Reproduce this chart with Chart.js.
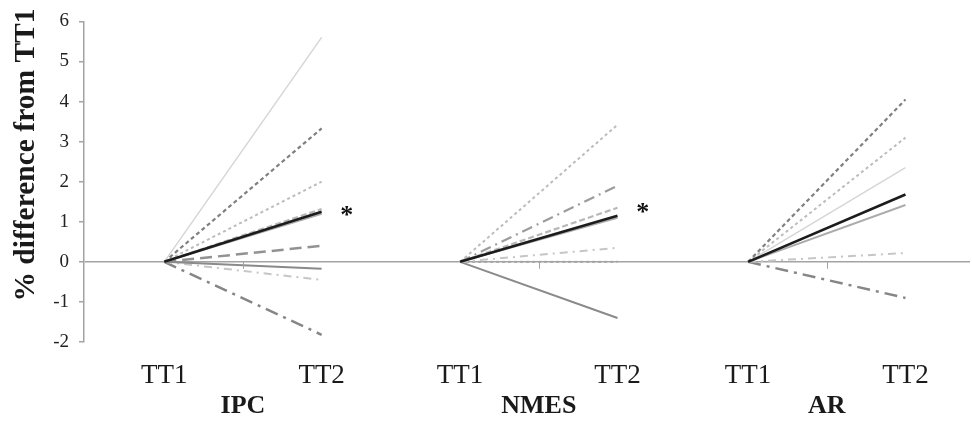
<!DOCTYPE html>
<html>
<head>
<meta charset="utf-8">
<script src="https://cdn.jsdelivr.net/npm/chart.js@4.4.1/dist/chart.umd.min.js"></script>
<style>
  html, body { margin: 0; padding: 0; background: #fff; }
  #wrap { width: 972px; height: 433px; }
</style>
</head>
<body>
<div id="wrap"><canvas id="c" width="972" height="433"></canvas></div>
<script>
// ---- data ----
const timepoints = ['TT1', 'TT2'];
const groups = ['IPC', 'NMES', 'AR'];
// axis position of TT1 in each group; TT2 sits one unit to the right
const groupStart = [0.51, 2.39, 4.22];
const axisMax = 5.63;
const yMin = -2, yMax = 6, yStep = 1;

// % difference from TT1 at TT2 (every line starts at 0 on TT1)
const ipcTT2  = [5.6, 3.33, 2.0, 1.32, 1.2, -0.17, 0.4, -0.45, -1.82, 1.25];
const nmesTT2 = [3.42, 1.9, 1.35, 1.1, 0.35, 0.0, -1.4, 1.15];
const arTT2   = [4.05, 3.1, 2.35, 1.42, 0.22, -0.9, 1.68];

// significant change markers: group index and height
const sigGroups = [0, 1];
const sigValues = [1.22, 1.29];

// ---- line styles ----
const lineStyles = {
  pale:        { color: '#d6d6d6', width: 1.5, dash: [] },
  darkDash:    { color: '#808080', width: 2.2, dash: [4, 3] },
  lightDot:    { color: '#bcbcbc', width: 2.0, dash: [3, 3] },
  lightDash:   { color: '#b8b8b8', width: 2.2, dash: [6, 3] },
  softSolid:   { color: '#acacac', width: 2.0, dash: [] },
  greySolid:   { color: '#8a8a8a', width: 2.0, dash: [] },
  longDash:    { color: '#929292', width: 2.5, dash: [12, 6] },
  dashDot:     { color: '#c6c6c6', width: 2.0, dash: [8, 5, 2, 5] },
  greyDashDot: { color: '#9c9c9c', width: 2.2, dash: [11, 5, 2, 5] },
  greyDot:     { color: '#a4a4a4', width: 2.0, dash: [3, 3] },
  longDashDot: { color: '#868686', width: 2.5, dash: [13, 6, 3, 6] },
  mean:        { color: '#1c1c1c', width: 2.6, dash: [] }
};
const ipcStyle  = ['pale', 'darkDash', 'lightDot', 'lightDash', 'softSolid', 'greySolid', 'longDash', 'dashDot', 'longDashDot', 'mean'];
const nmesStyle = ['lightDot', 'greyDashDot', 'lightDash', 'softSolid', 'dashDot', 'greyDot', 'greySolid', 'mean'];
const arStyle   = ['darkDash', 'lightDot', 'pale', 'softSolid', 'dashDot', 'longDashDot', 'mean'];

const groupValues = [ipcTT2, nmesTT2, arTT2];
const groupStyles = [ipcStyle, nmesStyle, arStyle];

const datasets = [];
groupValues.forEach((vals, g) => {
  vals.forEach((v, i) => {
    const s = lineStyles[groupStyles[g][i]];
    datasets.push({
      label: groups[g] + ' ' + (i + 1),
      data: [{ x: groupStart[g], y: 0 }, { x: groupStart[g] + 1, y: v }],
      borderColor: s.color,
      borderWidth: s.width,
      borderDash: s.dash,
      pointRadius: 0,
      tension: 0,
      fill: false,
      order: groupStyles[g][i] === 'mean' ? 0 : 1
    });
  });
});

// x ticks: TT1/TT2 under each line end, group name (second line) at the group centre
const xTicks = [];
groupStart.forEach((p, g) => {
  xTicks.push({ value: p, label: timepoints[0], group: false });
  xTicks.push({ value: p + 0.5, label: ['', groups[g]], group: true });
  xTicks.push({ value: p + 1, label: timepoints[1], group: false });
});
const groupCentres = groupStart.map(p => p + 0.5);

const serif = '"Liberation Serif", "Times New Roman", serif';
const axisGrey = '#a3a3a3';

// rotated y title, significance stars and the small ticks on the zero line
const decorations = {
  id: 'decorations',
  afterDraw(chart) {
    const { ctx, scales: { x, y } } = chart;
    ctx.save();
    ctx.strokeStyle = axisGrey;
    ctx.lineWidth = 1;
    const y0 = y.getPixelForValue(0);
    groupCentres.forEach(c => {
      const px = Math.round(x.getPixelForValue(c)) + 0.5;
      ctx.beginPath();
      ctx.moveTo(px, y0);
      ctx.lineTo(px, y0 + 7);
      ctx.stroke();
    });
    ctx.fillStyle = '#111';
    ctx.font = 'bold 26px ' + serif;
    ctx.textAlign = 'center';
    ctx.textBaseline = 'alphabetic';
    sigGroups.forEach((g, i) => {
      const px = x.getPixelForValue(groupStart[g] + 1.16);
      const py = y.getPixelForValue(sigValues[i]);
      ctx.fillText('*', px, py + 10);
    });
    ctx.translate(26, 155);
    ctx.rotate(-Math.PI / 2);
    ctx.fillStyle = '#1a1a1a';
    ctx.font = 'bold 29.5px ' + serif;
    ctx.textAlign = 'center';
    ctx.textBaseline = 'middle';
    ctx.fillText('% difference from TT1', 0, 0);
    ctx.restore();
  }
};

new Chart(document.getElementById('c'), {
  type: 'line',
  data: { datasets },
  options: {
    responsive: false,
    animation: false,
    devicePixelRatio: 1,
    layout: { padding: { top: 19, right: 2, left: 0, bottom: 0 } },
    plugins: { legend: { display: false }, tooltip: { enabled: false } },
    scales: {
      x: {
        type: 'linear', min: 0, max: axisMax, position: 'bottom',
        grid: { display: false, drawTicks: false },
        border: { display: false },
        afterBuildTicks: s => { s.ticks = xTicks.map(t => ({ value: t.value })); },
        afterFit: s => { s.height = 91; },
        ticks: {
          autoSkip: false, maxRotation: 0, minRotation: 0, padding: 18,
          color: '#1a1a1a',
          font: c => (xTicks[c.index] && xTicks[c.index].group)
            ? { family: serif, size: 26, weight: 'bold', lineHeight: 1.18 }
            : { family: serif, size: 27, lineHeight: 1.2 },
          callback: (v, i) => xTicks[i].label
        }
      },
      y: {
        min: yMin, max: yMax,
        afterFit: s => { s.width = 84; },
        ticks: { stepSize: yStep, padding: 10, font: { family: serif, size: 19 }, color: '#222' },
        grid: {
          color: c => (c.tick && c.tick.value === 0) ? axisGrey : 'rgba(0,0,0,0)',
          lineWidth: 1.5, tickColor: axisGrey, tickLength: 5, drawTicks: true
        },
        border: { display: true, color: axisGrey, width: 1.5 }
      }
    }
  },
  plugins: [decorations]
});
</script>
</body>
</html>
